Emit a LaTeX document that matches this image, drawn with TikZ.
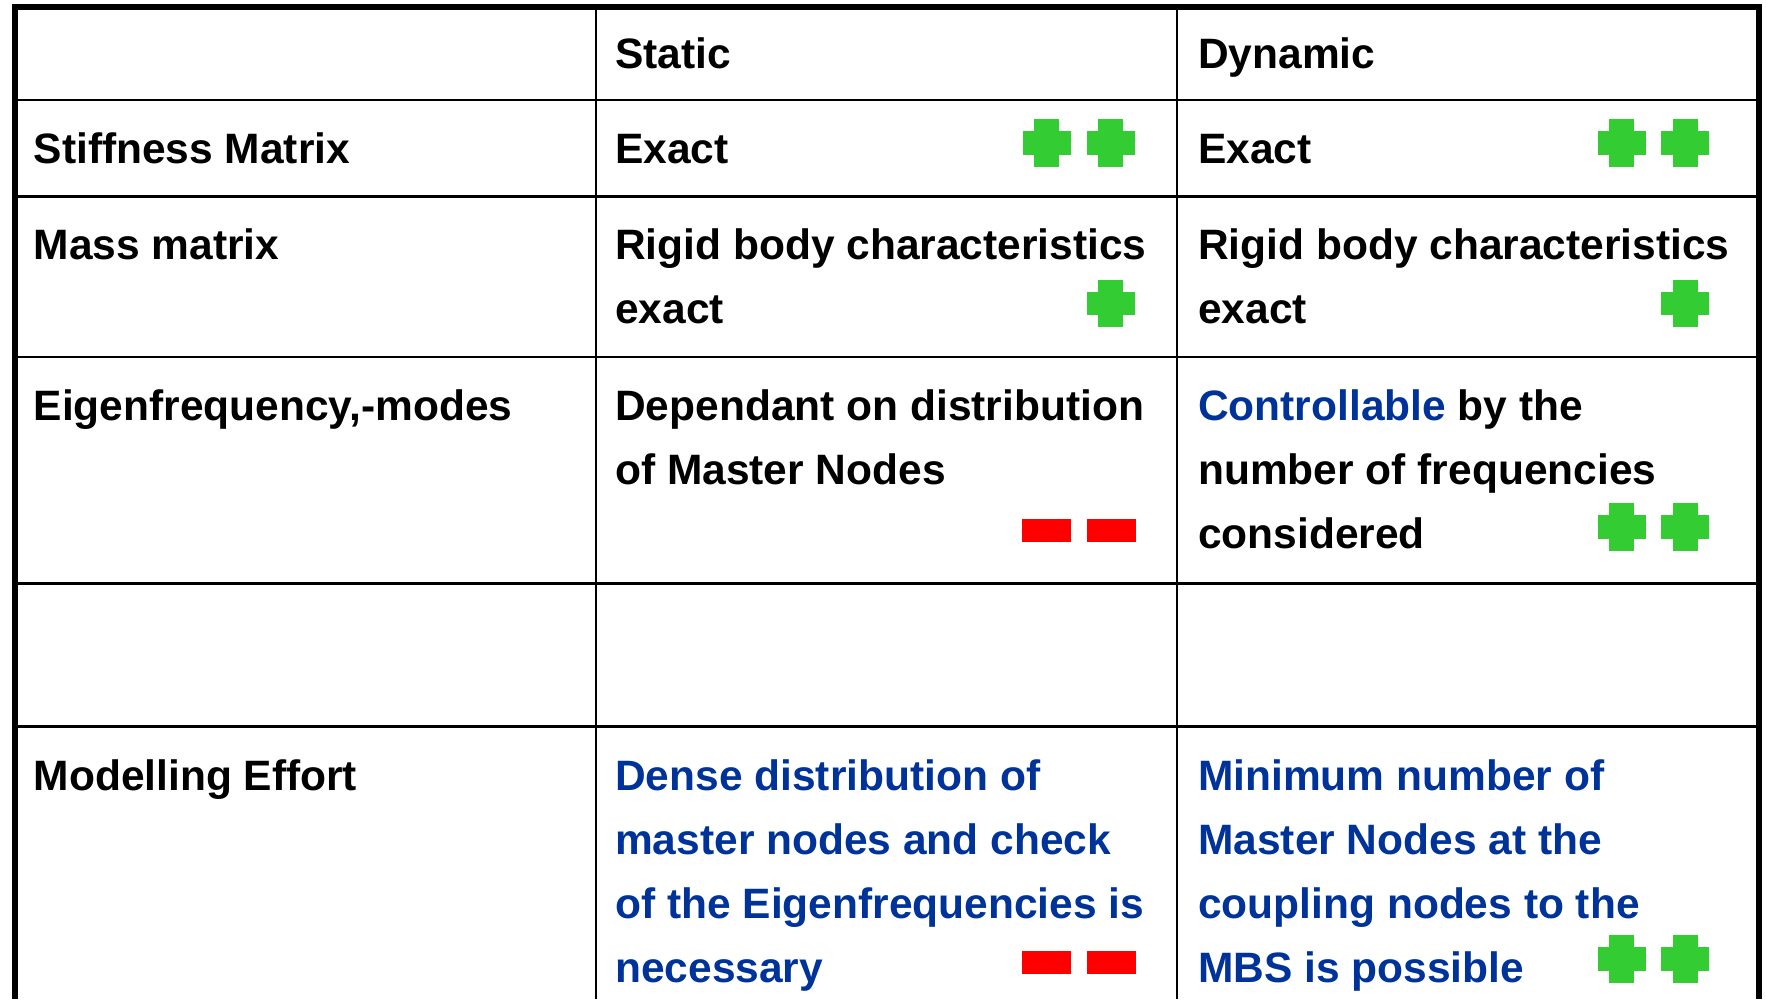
\documentclass[tikz,border=0pt]{standalone}
\usepackage{fontspec}
\setmainfont{Liberation Sans}
\definecolor{plusgreen}{HTML}{33CC33}
\definecolor{minusred}{HTML}{FF0000}
\definecolor{textblue}{HTML}{003399}
\begin{document}
\begin{tikzpicture}[x=1pt,y=-1pt,
  txt/.style={anchor=base west, inner sep=0pt, font=\fontsize{42.5}{64}\selectfont\bfseries},
  bluetxt/.style={txt, text=textblue},
  innerline/.style={line width=2.5pt, black},
  outerline/.style={line width=6pt, black, line join=miter},
  plussign/.pic={
    \fill[plusgreen] (-24,-11.8) rectangle (24,11.8);
    \fill[plusgreen] (-12.5,-23.7) rectangle (12.5,23.7);
  },
  minussign/.pic={
    \fill[minusred] (-24.5,-11.3) rectangle (24.5,11.3);
  }]
\useasboundingbox (0,0) rectangle (1766,999);
\fill[white] (0,0) rectangle (1766,999);

% grid
\foreach \yy in {100,196.7,357,583.3,726.7}{
  \draw[innerline] (14.8,\yy) -- (1759,\yy);
}
\draw[innerline] (596,6.7) -- (596,999);
\draw[innerline] (1177,6.7) -- (1177,999);
\draw[outerline] (14.8,999) -- (14.8,6.7) -- (1759,6.7) -- (1759,999);

% header
\node[txt] (hs) at (615,68.5) {Static};
\node[txt] (hd) at (1198,68.5) {Dynamic};

% row 2
\node[txt] (r2a) at (33.5,163.5) {Stiffness Matrix};
\node[txt] (r2b) at (615,163.5) {Exact};
\node[txt] (r2c) at (1198,163.5) {Exact};
\pic at (1046.5,143) {plussign};
\pic at (1110.5,143) {plussign};
\pic at (1621.5,143) {plussign};
\pic at (1685,143) {plussign};

% row 3
\node[txt] (r3a) at (33.5,259.5) {Mass matrix};
\node[txt] (r3b1) at (615,259.5) {Rigid body characteristics};
\node[txt] (r3b2) at (615,323.5) {exact};
\node[txt] (r3c1) at (1198,259.5) {Rigid body characteristics};
\node[txt] (r3c2) at (1198,323.5) {exact};
\pic at (1110.5,303.3) {plussign};
\pic at (1685,303.3) {plussign};

% row 4
\node[txt] (r4a) at (33.5,420.5) {Eigenfrequency,-modes};
\node[txt] (r4b1) at (615,420.5) {Dependant on distribution};
\node[txt] (r4b2) at (615,484.5) {of Master Nodes};
\node[txt] (r4c1) at (1198,420.5) {\textcolor{textblue}{Controllable} by the};
\node[txt] (r4c2) at (1198,484.5) {number of frequencies};
\node[txt] (r4c3) at (1198,548.5) {considered};
\pic at (1046.5,530.3) {minussign};
\pic at (1111.5,530.3) {minussign};
\pic at (1621.5,527) {plussign};
\pic at (1685,527) {plussign};

% row 6
\node[txt] (r6a) at (33.5,790.5) {Modelling Effort};
\node[bluetxt] (r6b1) at (615,790.5) {Dense distribution of};
\node[bluetxt] (r6b2) at (615,854.5) {master nodes and check};
\node[bluetxt] (r6b3) at (615,918.5) {of the Eigenfrequencies is};
\node[bluetxt] (r6b4) at (615,982.5) {necessary};
\node[bluetxt] (r6c1) at (1198,790.5) {Minimum number of};
\node[bluetxt] (r6c2) at (1198,854.5) {Master Nodes at the};
\node[bluetxt] (r6c3) at (1198,918.5) {coupling nodes to the};
\node[bluetxt] (r6c4) at (1198,982.5) {MBS is possible};
\pic at (1046.5,962.3) {minussign};
\pic at (1111.5,962.3) {minussign};
\pic at (1621.5,959) {plussign};
\pic at (1685,959) {plussign};
\end{tikzpicture}
\end{document}
